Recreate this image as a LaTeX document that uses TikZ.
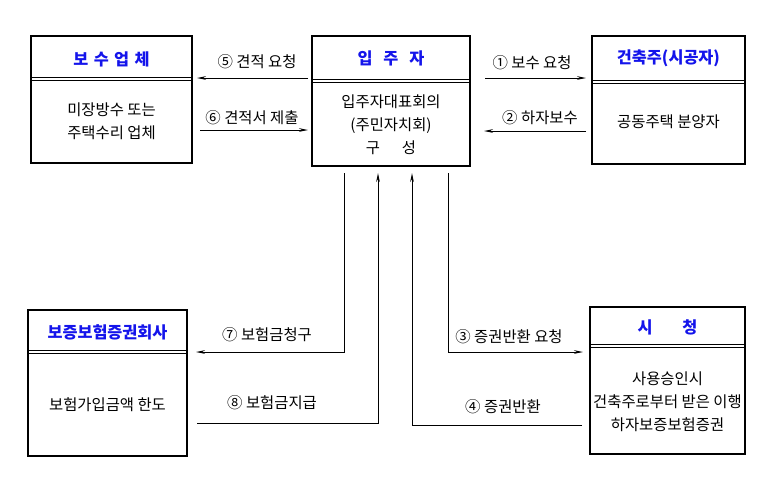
\documentclass[tikz,border=0pt]{standalone}
\usepackage{fontspec}
\setmainfont{Noto Sans CJK KR}
\usetikzlibrary{arrows.meta}
\definecolor{ttl}{RGB}{20,20,235}
\tikzset{
  box/.style={draw,line width=1.6pt,inner sep=0pt},
  ttl/.style={text=ttl,font=\fontsize{16.3}{18}\selectfont\bfseries,inner sep=0pt},
  body/.style={align=center,font=\fontsize{15.4}{23}\selectfont,inner sep=0pt},
  lbl/.style={font=\fontsize{15.4}{16}\selectfont,inner sep=0pt},
  conn/.style={line width=1pt},
  arr/.style={conn,-{Stealth[length=9pt,width=3.6pt]}},
  dbl/.style={line width=0.8pt}
}
\begin{document}
\begin{tikzpicture}[x=1pt,y=-1pt]
\useasboundingbox (0,0) rectangle (772,488);
% boxes
\node[box,minimum width=161pt,minimum height=127pt] (A) at (111.5,99.5) {};
\node[box,minimum width=158pt,minimum height=130pt] (B) at (391,101) {};
\node[box,minimum width=153pt,minimum height=128pt] (C) at (668.5,100) {};
\node[box,minimum width=159pt,minimum height=146pt] (D) at (107.5,383) {};
\node[box,minimum width=155pt,minimum height=147pt] (E) at (667.5,380.5) {};
% dividers
\foreach \n/\y in {A/79,B/81,C/82,D/352,E/346}{
  \draw[dbl] (\n.west|-0,\y-1.6) -- (\n.east|-0,\y-1.6);
  \draw[dbl] (\n.west|-0,\y+1.6) -- (\n.east|-0,\y+1.6);
}
% titles
\node[ttl] (tA) at (111.5,59) {보\,\,수\,\,업\,\,체};
\node[ttl] (tB) at (391,58) {입\,\,\,\,주\,\,\,\,자};
\node[ttl] (tC) at (668.5,58) {건축주(시공자)};
\node[ttl] (tD) at (107.5,332) {보증보험증권회사};
\node[ttl] (tE) at (667.5,327) {시\hspace{30pt}청};
% bodies
\node[body] (bA) at (111.5,121) {미장방수 또는\\주택수리 업체};
\node[body] (bB) at (391,125) {입주자대표회의\\(주민자치회)\\구\hspace{22pt}성};
\node[body] (bC) at (668.5,122) {공동주택 분양자};
\node[body] (bD) at (107.5,405) {보험가입금액 한도};
\node[body] (bE) at (667.5,402) {사용승인시\\건축주로부터 받은 이행\\하자보증보험증권};
% top connectors
\coordinate (p5s) at (308,78); \coordinate (p5e) at (197,78);
\coordinate (p6s) at (200,130); \coordinate (p6e) at (308,130);
\coordinate (p1s) at (485,78); \coordinate (p1e) at (586,78);
\coordinate (p2s) at (586,131); \coordinate (p2e) at (484,131);
\draw[arr] (p5s) -- (p5e);
\draw[arr] (p6s) -- (p6e);
\draw[arr] (p1s) -- (p1e);
\draw[arr] (p2s) -- (p2e);
\node[lbl] (l5) at (257,62) {⑤ 견적 요청};
\node[lbl] (l6) at (252,118) {⑥ 견적서 제출};
\node[lbl] (l1) at (532,63) {① 보수 요청};
\node[lbl] (l2) at (540,118) {② 하자보수};
% bottom connectors
\coordinate (q7a) at (344,173); \coordinate (q7b) at (344,352); \coordinate (q7c) at (196,352);
\coordinate (q8a) at (197,423); \coordinate (q8b) at (378,423); \coordinate (q8c) at (378,173);
\coordinate (q4a) at (582,425); \coordinate (q4b) at (412,425); \coordinate (q4c) at (412,173);
\coordinate (q3a) at (448,173); \coordinate (q3b) at (448,352); \coordinate (q3c) at (583,352);
\draw[arr] (q7a) -- (q7b) -- (q7c);
\draw[arr] (q8a) -- (q8b) -- (q8c);
\draw[arr] (q4a) -- (q4b) -- (q4c);
\draw[arr] (q3a) -- (q3b) -- (q3c);
\node[lbl] (l7) at (267,335) {⑦ 보험금청구};
\node[lbl] (l3) at (509,337) {③ 증권반환 요청};
\node[lbl] (l8) at (272,403) {⑧ 보험금지급};
\node[lbl] (l4) at (503,407) {④ 증권반환};
\end{tikzpicture}
\end{document}
